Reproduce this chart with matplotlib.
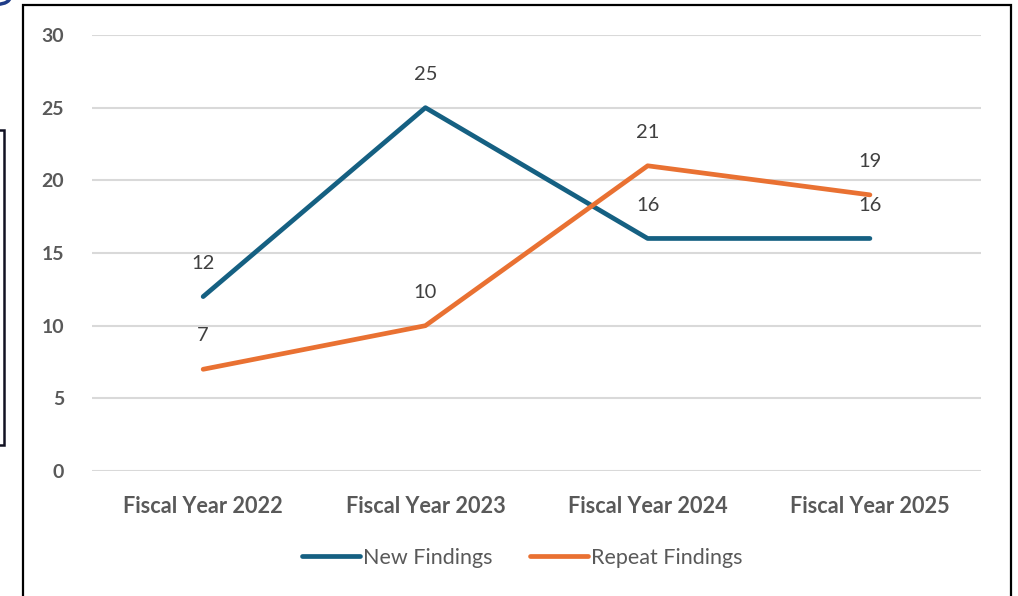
import matplotlib.pyplot as plt
from matplotlib.patches import Rectangle, Circle

# findings per fiscal year
years = ['Fiscal Year 2022', 'Fiscal Year 2023', 'Fiscal Year 2024', 'Fiscal Year 2025']
new_findings = [12, 25, 16, 16]
repeat_findings = [7, 10, 21, 19]

plt.rcParams['font.family'] = ['Lato', 'DejaVu Sans']

fig = plt.figure(figsize=(10.18, 5.96), dpi=100)
ax = fig.add_axes([0.0904, 0.2097, 0.8733, 0.7316])

blue = '#156082'
orange = '#e97132'
x = list(range(len(years)))

ax.plot(x, new_findings, color=blue, lw=3.4, solid_capstyle='round', label='New Findings', zorder=3)
ax.plot(x, repeat_findings, color=orange, lw=3.4, solid_capstyle='round', label='Repeat Findings', zorder=3)

# value labels above each point
for xs, ys in [(x, new_findings), (x, repeat_findings)]:
    for xi, yi in zip(xs, ys):
        ax.annotate(str(yi), (xi, yi), xytext=(0, 24), textcoords='offset points',
                    ha='center', va='center', fontsize=14.5, color='#404040')

ax.set_xlim(-0.5, 3.5)
ax.set_ylim(0, 30)
ax.set_yticks(range(0, 31, 5))
ax.set_xticks(x)
ax.set_xticklabels(years)
ax.yaxis.grid(True, color='#d9d9d9', lw=1.5)
ax.set_axisbelow(True)
for s in ax.spines.values():
    s.set_visible(False)
ax.tick_params(length=0, labelcolor='#595959')
ax.tick_params(axis='y', pad=20, labelsize=14)
ax.tick_params(axis='x', pad=18, labelsize=15.6)
for lab in ax.get_xticklabels() + ax.get_yticklabels():
    lab.set_fontweight('bold')

leg = fig.legend(loc='center', bbox_to_anchor=(0.513, 0.064), ncol=2, frameon=False,
                 fontsize=15.5, handlelength=2.7, handletextpad=0.15, columnspacing=1.7)
for t in leg.get_texts():
    t.set_color('#595959')

# chart frame and neighbouring shapes
fig.patches.append(Rectangle((23 / 1018, -0.05), 988 / 1018, 1.05 - 5 / 596, transform=fig.transFigure,
                             fill=False, ec='black', lw=1.6))
fig.patches.append(Rectangle((-0.01, 1 - 445 / 596), 0.014, 315 / 596, transform=fig.transFigure,
                             fill=False, ec='#111122', lw=1.8))
fig.patches.append(Circle((-0.002, 1.005), 0.012, transform=fig.transFigure,
                          fill=False, ec='#1f3c88', lw=2.5))

fig.savefig('out.png', dpi=100)
